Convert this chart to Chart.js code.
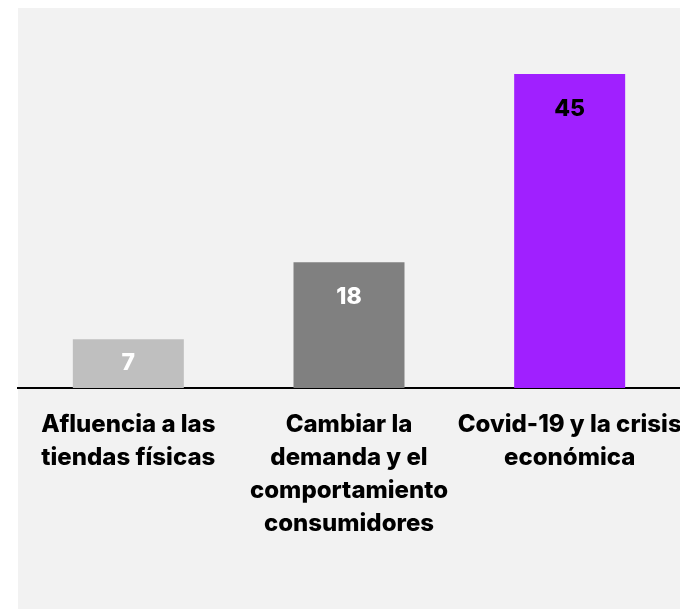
<!DOCTYPE html>
<html>
<head>
<meta charset="utf-8">
<script src="https://cdn.jsdelivr.net/npm/chart.js@4/dist/chart.umd.min.js"></script>
<style>
  html, body { margin: 0; padding: 0; background: #fff; }
  #panel { position: absolute; left: 18px; top: 8px; width: 662px; height: 601px; background: #f2f2f2; }
  #wrap { position: absolute; left: 0; top: 0; width: 680px; height: 609px; }
</style>
</head>
<body>
<div id="panel"></div>
<div id="wrap"><canvas id="barChart"></canvas></div>
<script>
// -- Data --
const categories = [
    ['Afluencia a las', 'tiendas físicas'],
    ['Cambiar la', 'demanda y el', 'comportamiento', 'consumidores'],
    ['Covid-19 y la crisis', 'económica']
];
const values = [7, 18, 45];
const barColors = ['#bfbfbf', '#808080', null]; // null = gradiente morado
const labelColors = ['#ffffff', '#ffffff', '#000000'];

const FONT = 'Inter';

// gradiente para la barra morada
function purpleFill(ctx) {
    const chart = ctx.chart;
    const el = chart.getDatasetMeta(0).data[ctx.dataIndex];
    if (!el || el.y === undefined || isNaN(el.y)) return '#a020ff';
    const g = chart.ctx.createLinearGradient(0, el.y, 0, el.base);
    g.addColorStop(0, '#b040ff');
    g.addColorStop(1, '#9b00f0');
    return g;
}

// -- Plugin: números dentro de las barras --
const valueLabels = {
    id: 'valueLabels',
    afterDatasetsDraw(chart) {
        const { ctx } = chart;
        const meta = chart.getDatasetMeta(0);
        ctx.save();
        ctx.font = '800 23px ' + FONT;
        ctx.textAlign = 'center';
        ctx.textBaseline = 'middle';
        meta.data.forEach((bar, i) => {
            const y = Math.min(bar.y + 35, (bar.y + bar.base) / 2);
            ctx.fillStyle = labelColors[i];
            ctx.fillText(values[i], bar.x, y);
        });
        ctx.restore();
    }
};

const chart = new Chart(document.getElementById('barChart'), {
    type: 'bar',
    data: {
        labels: categories,
        datasets: [{
            data: values,
            backgroundColor: (ctx) => barColors[ctx.dataIndex] || purpleFill(ctx),
            borderWidth: 0,
            categoryPercentage: 1,
            barPercentage: 0.503
        }]
    },
    options: {
        responsive: true,
        maintainAspectRatio: false,
        animation: false,
        layout: { padding: { left: 18, right: 0, top: 39, bottom: 0 } },
        scales: {
            x: {
                grid: { display: false },
                border: { display: true, color: '#000', width: 2 },
                ticks: {
                    color: '#000',
                    font: { family: FONT, size: 24, weight: '800', lineHeight: 1.375 },
                    padding: 12,
                    maxRotation: 0,
                    minRotation: 0,
                    autoSkip: false
                },
                afterFit(scale) {
                    scale.height = 221;
                    scale.paddingLeft = 0;
                    scale.paddingRight = 0;
                }
            },
            y: {
                display: false,
                min: 0,
                max: 50
            }
        },
        plugins: {
            legend: { display: false },
            tooltip: { enabled: false }
        }
    },
    plugins: [valueLabels]
});
</script>
</body>
</html>
